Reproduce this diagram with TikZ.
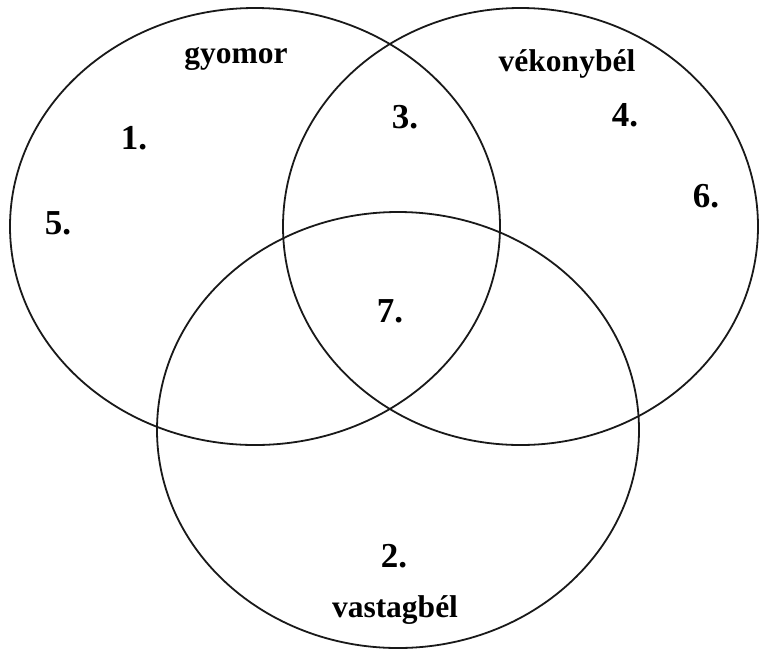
\documentclass[tikz,border=0pt]{standalone}
\usepackage{fontspec}
\setmainfont{Liberation Serif}
\begin{document}
\begin{tikzpicture}[x=1pt,y=-1pt,
  venn/.style={draw=black!90, line width=1.8pt},
  lab/.style={font=\fontsize{31.5}{36}\selectfont\bfseries, anchor=base, inner sep=0pt},
  num/.style={font=\fontsize{35}{40}\selectfont\bfseries, anchor=base, inner sep=0pt}]
\useasboundingbox (0,0) rectangle (760,649);
\draw[venn] (255,226.5) ellipse [x radius=245, y radius=218.5];
\draw[venn] (520.5,226.5) ellipse [x radius=237.5, y radius=218.5];
\draw[venn] (398,430) ellipse [x radius=241, y radius=218];
\node[lab] (gy) at (236,63) {gyomor};
\node[lab] (vk) at (567,71) {vékonybél};
\node[lab] (vs) at (395,617) {vastagbél};
\node[num] (n1) at (134,149) {1.};
\node[num] (n5) at (58,234) {5.};
\node[num] (n3) at (405,128) {3.};
\node[num] (n4) at (625,126) {4.};
\node[num] (n6) at (706,207) {6.};
\node[num] (n7) at (390,322) {7.};
\node[num] (n2) at (394,567) {2.};
\end{tikzpicture}
\end{document}
